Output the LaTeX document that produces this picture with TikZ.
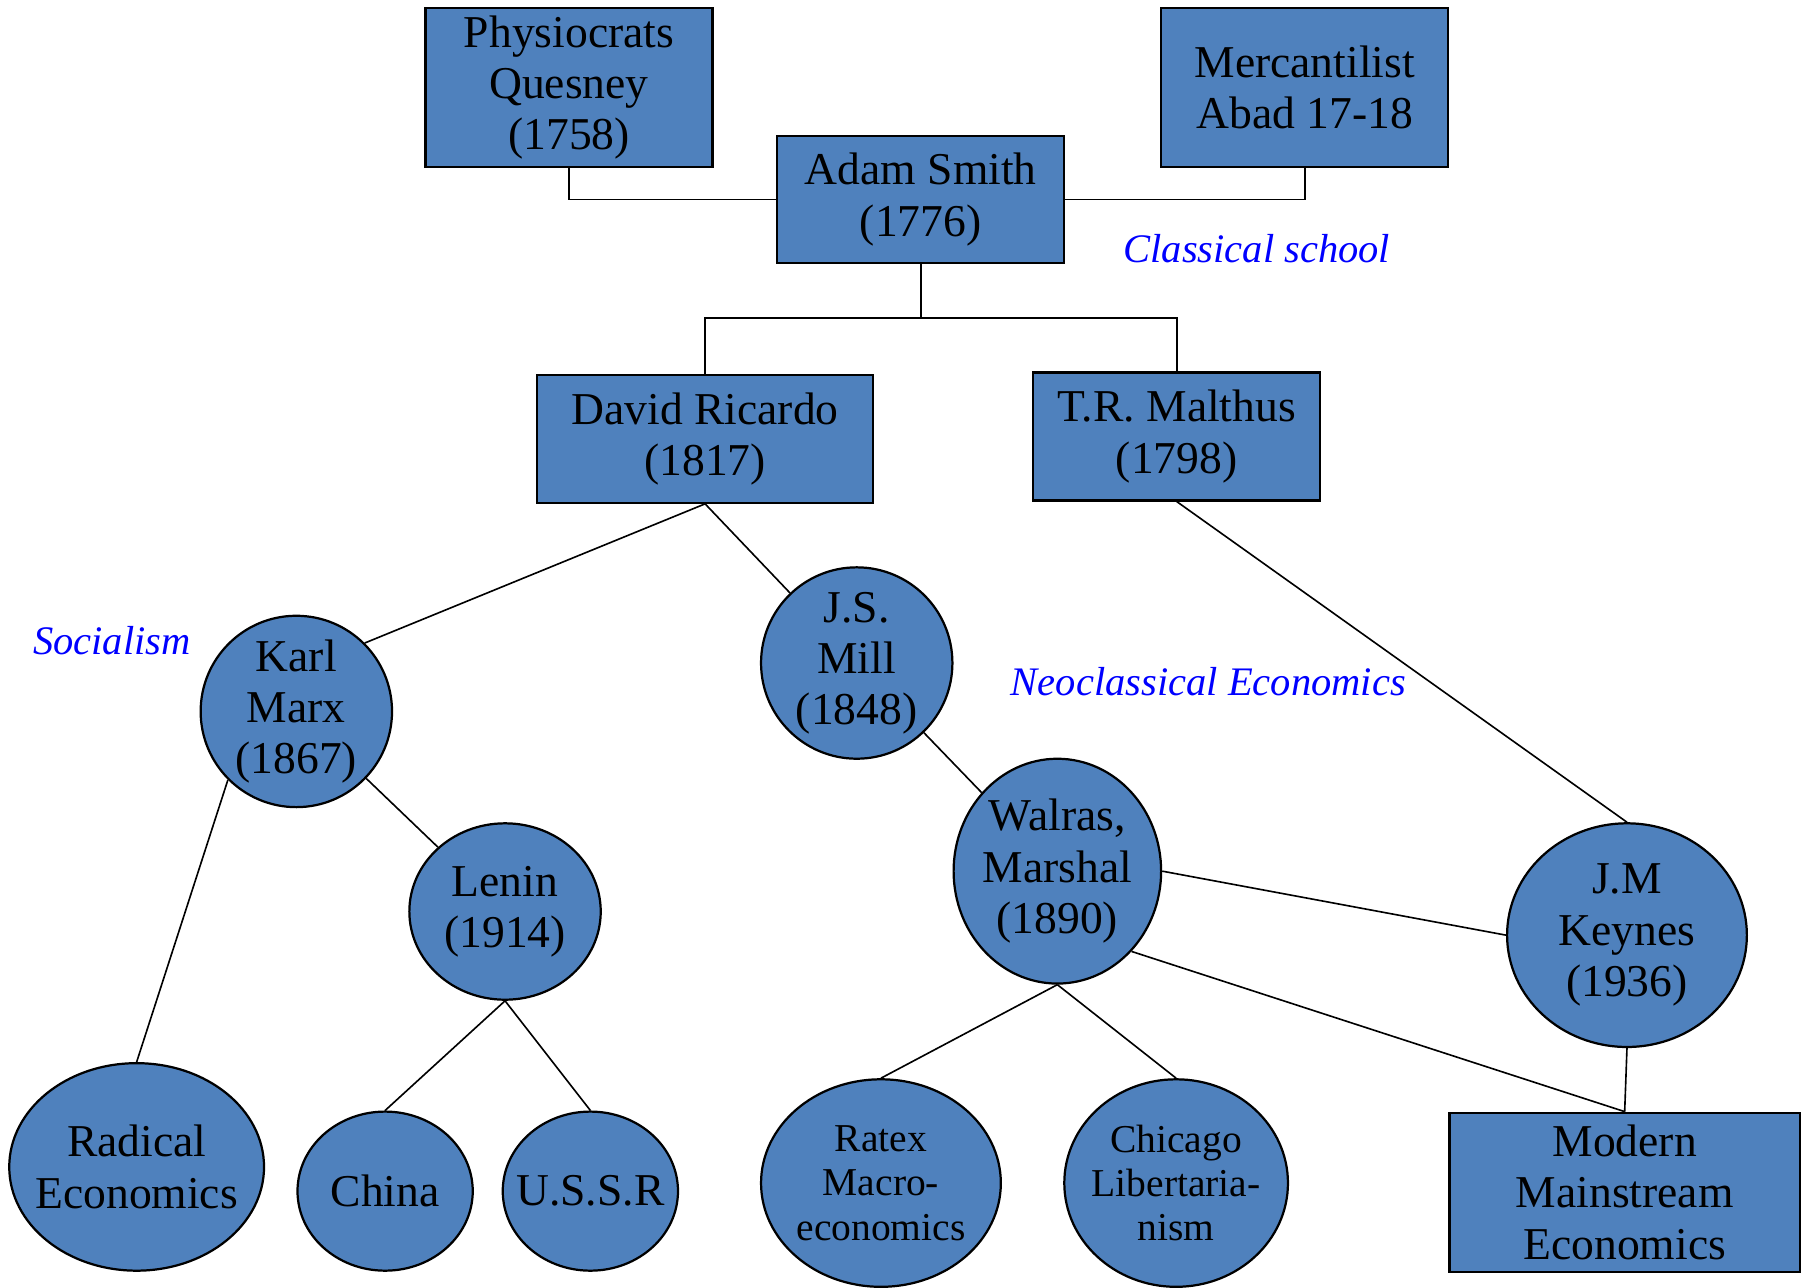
\documentclass[tikz,border=0pt]{standalone}
\usepackage{fontspec}
\setmainfont{Liberation Serif}
\usetikzlibrary{shapes}
\definecolor{boxblue}{HTML}{4F81BD}
\tikzstyle{block} = [rectangle, draw, fill=boxblue, line width=1.1pt,
    align=center, inner sep=2pt]
\tikzstyle{person} = [ellipse, draw, fill=boxblue, line width=1.1pt,
    align=center, inner sep=-0.4cm]
\tikzstyle{small} = [font=\fontsize{19.5}{21.9}\selectfont]
\tikzstyle{school} = [text=blue, font=\fontsize{20}{24}\selectfont\itshape]
\tikzstyle{line} = [draw, line width=0.8pt]

\begin{document}
\begin{tikzpicture}[x=0.02cm, y=-0.02cm, font=\fontsize{22.5}{25.3}\selectfont]
	\useasboundingbox (0,0) rectangle (1568,1117);

		% classical school
		\node [block, minimum width=4.98cm, minimum height=2.76cm] (physio) at (493.5,76) {Physiocrats\\Quesney\\(1758)};
		\node [block, minimum width=4.98cm, minimum height=2.76cm] (merc) at (1131.5,76) {Mercantilist\\Abad 17-18};
		\node [block, minimum width=4.98cm, minimum height=2.2cm] (smith) at (798.5,173) {Adam Smith\\(1776)};
		\node [block, minimum width=5.82cm, minimum height=2.22cm] (ricardo) at (611.5,380.5) {David Ricardo\\(1817)};
		\node [block, minimum width=4.98cm, minimum height=2.22cm] (malthus) at (1020.5,378.5) {T.R. Malthus\\(1798)};
		\coordinate (fork) at (798.5,276);

		\path [line] (physio.south) |- (smith.west);
		\path [line] (merc.south) |- (smith.east);
		\path [line] (smith.south) -- (fork) -| (ricardo.north);
		\path [line] (fork) -| (malthus.north);

		% socialism
		\node [person, minimum width=3.32cm, minimum height=3.32cm] (marx) at (257,617) {Karl\\Marx\\(1867)};
		\node [person, minimum width=3.32cm, minimum height=3.06cm] (lenin) at (438,790.5) {Lenin\\(1914)};
		\node [person, minimum width=4.42cm, minimum height=3.6cm] (radical) at (118.5,1012) {Radical\\Economics};
		\node [person, minimum width=3.04cm, minimum height=2.76cm] (china) at (334,1033) {China};
		\node [person, minimum width=3.04cm, minimum height=2.76cm] (ussr) at (512,1033) {U.S.S.R};

		\path [line] (ricardo.south) -- (marx.north east);
		\path [line] (marx) -- (lenin);
		\path [line] (marx.south west) -- (radical.north);
		\path [line] (lenin.south) -- (china.north);
		\path [line] (lenin.south) -- (ussr.north);

		% neoclassical
		\node [person, minimum width=3.32cm, minimum height=3.32cm] (mill) at (743,575) {J.S.\\Mill\\(1848)};
		\node [person, minimum width=3.6cm, minimum height=3.9cm] (walras) at (917,755.5) {Walras,\\Marshal\\(1890)};
		\node [person, minimum width=4.16cm, minimum height=3.88cm] (keynes) at (1411,811) {J.M\\Keynes\\(1936)};
		\node [person, small, minimum width=4.16cm, minimum height=3.6cm] (ratex) at (764,1026) {Ratex\\Macro-\\economics};
		\node [person, small, minimum width=3.88cm, minimum height=3.6cm] (chicago) at (1020,1026) {Chicago\\Libertaria-\\nism};
		\node [block, minimum width=6.08cm, minimum height=2.76cm] (modern) at (1409,1034) {Modern\\Mainstream\\Economics};

		\path [line] (ricardo.south) -- (mill);
		\path [line] (mill) -- (walras);
		\path [line] (malthus.south) -- (keynes.north);
		\path [line] (walras.east) -- (keynes.west);
		\path [line] (walras.south) -- (ratex.north);
		\path [line] (walras.south) -- (chicago.north);
		\path [line] (walras.south east) -- (modern.north);
		\path [line] (keynes.south) -- (modern.north);

		% school labels
		\node [school] (classical) at (1090,216) {Classical school};
		\node [school] (socialism) at (97,556) {Socialism};
		\node [school] (neoclassical) at (1048,591) {Neoclassical Economics};
	\end{tikzpicture}
\end{document}
